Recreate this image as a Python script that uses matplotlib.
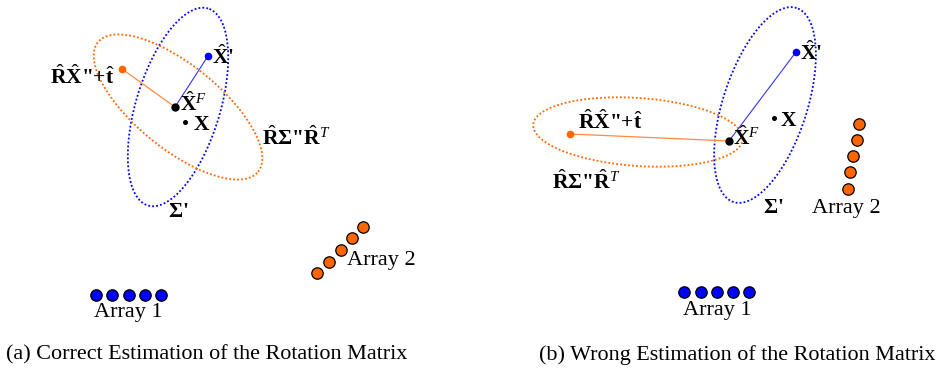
import numpy as np
import matplotlib
matplotlib.use('Agg')
import matplotlib.pyplot as plt

plt.rcParams['font.family'] = ['Liberation Serif', 'DejaVu Serif']
plt.rcParams['mathtext.fontset'] = 'custom'
plt.rcParams['mathtext.rm'] = 'Liberation Serif'
plt.rcParams['mathtext.bf'] = 'Liberation Serif:bold'
plt.rcParams['mathtext.it'] = 'Liberation Serif:italic'

BLUE = '#0000ff'
ORANGE = '#ff6600'

# scene geometry in pixel units (x right, y down), one entry per panel
panels = ['a', 'b']
captions = ['(a) Correct Estimation of the Rotation Matrix',
            '(b) Wrong Estimation of the Rotation Matrix']
caption_x = [207, 737]

# covariance ellipses: centre, semi-axes, tilt (deg, counter-clockwise)
blue_ell_c = [(178, 107), (765, 105)]
blue_ell_ab = [(103, 42), (102, 42)]
blue_ell_ang = [73, 72]
orange_ell_c = [(178, 107), (638, 132)]
orange_ell_ab = [(103, 42), (105, 34)]
orange_ell_ang = [-39, -4]

# estimated points
xhat_p = [(208, 56), (796, 52)]        # X'
rxt = [(122, 69), (570, 134)]          # R X'' + t
xfuse = [(175, 107), (729, 141)]       # X^F
xtrue = [(185, 122), (774, 118)]       # X

# microphone arrays
arr1_x = [[96, 112, 129, 145, 161], [684, 701, 717, 733, 749]]
arr1_y = [[295] * 5, [292] * 5]
arr2_x = [[317, 329, 341, 352, 363], [848, 850, 853, 857, 859]]
arr2_y = [[273, 262, 250, 238, 227], [189, 172, 156, 140, 124]]

# label anchors (x, y centre)
lab_xp = [(212, 57), (800, 53)]
lab_rxt = [(115, 77), (578, 122)]
lab_xf = [(180, 104), (733, 138)]
lab_x = [(193, 125), (780, 121)]
lab_rsr = [(262, 138), (552, 182)]
lab_sig = [(168, 212), (763, 208)]
lab_arr1 = [(128, 313), (717, 311)]
lab_arr2 = [(347, 261), (812, 209)]
rxt_ha = ['right', 'left']


def ellipse(c, ab, ang):
    t = np.linspace(0, 2 * np.pi, 300)
    th = np.deg2rad(ang)
    u = ab[0] * np.cos(t)
    v = ab[1] * np.sin(t)
    x = c[0] + u * np.cos(th) - v * np.sin(th)
    y = c[1] - (u * np.sin(th) + v * np.cos(th))
    return x, y


fig = plt.figure(figsize=(9.4, 3.73), dpi=100)
ax = fig.add_axes([0, 0, 1, 1])
ax.set_xlim(0, 940)
ax.set_ylim(373, 0)
ax.axis('off')

bold = dict(fontsize=15.5, fontweight='bold', va='center')

for i in range(len(panels)):
    x, y = ellipse(blue_ell_c[i], blue_ell_ab[i], blue_ell_ang[i])
    ax.plot(x, y, color=BLUE, ls=(0, (1, 1.2)), lw=1.3)
    x, y = ellipse(orange_ell_c[i], orange_ell_ab[i], orange_ell_ang[i])
    ax.plot(x, y, color=ORANGE, ls=(0, (1, 1.2)), lw=1.3)

    ax.plot([xhat_p[i][0], xfuse[i][0]], [xhat_p[i][1], xfuse[i][1]],
            color='#3333ff', lw=0.8)
    ax.plot([rxt[i][0], xfuse[i][0]], [rxt[i][1], xfuse[i][1]],
            color='#ff8a40', lw=0.9)

    ax.plot(*xhat_p[i], 'o', color=BLUE, ms=4.5, zorder=4)
    ax.plot(*rxt[i], 'o', color=ORANGE, ms=4.5, zorder=4)
    ax.plot(*xfuse[i], 'o', color='black', ms=5, zorder=4)
    ax.plot(*xtrue[i], 'o', color='black', ms=2.6, zorder=4)

    ax.plot(arr1_x[i], arr1_y[i], 'o', color=BLUE, mec='black', mew=0.9,
            ms=8.2, ls='none', zorder=4)
    ax.plot(arr2_x[i], arr2_y[i], 'o', color=ORANGE, mec='black', mew=0.9,
            ms=8.2, ls='none', zorder=4)

    ax.text(*lab_xp[i], r"$\hat{\mathbf{X}}$'", ha='left', **bold)
    ax.text(*lab_rxt[i], r'$\hat{\mathbf{R}}\hat{\mathbf{X}}$"+$\hat{\mathbf{t}}$',
            ha=rxt_ha[i], **bold)
    ax.text(*lab_xf[i], r'$\hat{\mathbf{X}}^{F}$', ha='left', **bold)
    ax.text(*lab_x[i], r'$\mathbf{X}$', ha='left', **bold)
    ax.text(*lab_rsr[i], r'$\hat{\mathbf{R}}\mathbf{\Sigma}$"$\hat{\mathbf{R}}^{T}$',
            ha='left', **bold)
    ax.text(*lab_sig[i], r"$\mathbf{\Sigma}$'", ha='left', **bold)

    ax.text(*lab_arr1[i], 'Array 1', fontsize=16, ha='center', va='center')
    ax.text(*lab_arr2[i], 'Array 2', fontsize=16, ha='left', va='center')

    ax.text(caption_x[i], 355, captions[i], fontsize=15.9, ha='center',
            va='center')

fig.savefig('out.png', dpi=100)
